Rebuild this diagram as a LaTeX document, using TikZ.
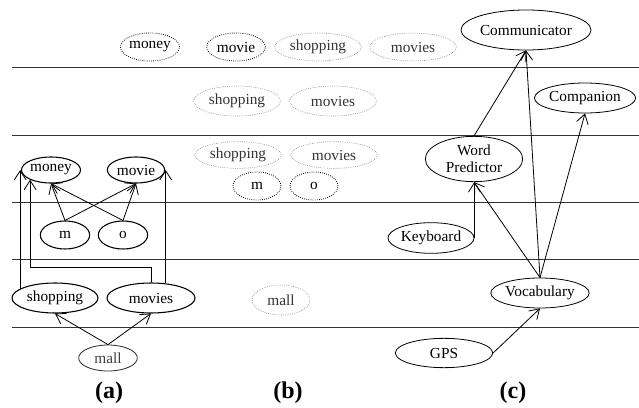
\documentclass[tikz,border=0pt]{standalone}
\usepackage{fontspec}
\setmainfont{Liberation Serif}
\usetikzlibrary{shapes.geometric,arrows.meta}

\tikzset{
  var/.style={ellipse, draw, thick, inner sep=0pt, minimum width=44pt, minimum height=19.5pt},
  obs/.style={var, draw=black!85, semithick, text=black!75},
  hint/.style={ellipse, draw, densely dotted, semithick, inner sep=0pt, minimum height=21pt},
  faint/.style={hint, draw=black!65, thin, text=black!80, minimum width=65pt},
  agent/.style={ellipse, draw, semithick, inner sep=0pt, minimum height=22.5pt},
  dep/.style={-{Straight Barb[length=7pt,width=9pt]}, line width=0.6pt},
  layer/.style={line width=0.7pt, black!80},
  panel/.style={font=\fontsize{18}{20}\selectfont\bfseries}
}

\begin{document}
\begin{tikzpicture}[x=0.75pt, y=-0.75pt, font=\fontsize{11.5}{13}\selectfont]
	\useasboundingbox (0,0) rectangle (639,407);

	% Camadas
	\foreach \ly in {67,135,202,259,327}
		\draw[layer] (12,\ly) -- (639,\ly);

	% (a) rede
	\node[var, minimum width=44pt] (money) at (51,170) {money};
	\node[var, minimum width=43pt] (movie) at (136,170) {movie};
	\node[var, minimum width=37pt, minimum height=21pt] (m) at (65,235) {m};
	\node[var, minimum width=37pt, minimum height=21pt] (o) at (123,235) {o};
	\node[var, minimum width=64.5pt, minimum height=22.5pt] (shop) at (55,298) {shopping};
	\node[var, minimum width=66pt, minimum height=22.5pt] (movs) at (151,298) {movies};
	\node[obs] (mall) at (108,358) {mall};

	\draw[dep] (m.north) -- (money.south);
	\draw[dep] (o.north) -- (money.south);
	\draw[dep] (m.north) -- (movie.south);
	\draw[dep] (o.north) -- (movie.south);
	\draw[dep] (shop.165) -- (shop.165 |- money.west);
	\draw[dep] (movs.north) -- ++(0,-15) -| (money.205);
	\draw[dep] (movs.45) -- (movs.45 |- movie.east);
	\draw[dep] (mall.north) -- (shop.south);
	\draw[dep] (mall.north) -- (movs.south);

	% (b) hipoteses
	\node[hint, minimum width=43.5pt] (bmoney) at (150,47) {money};
	\node[hint, minimum width=44pt] (bmovie) at (236,47) {movie};
	\node[faint] (bshopA) at (318,47) {shopping};
	\node[faint] (bmovsA) at (413,47) {movies};
	\node[faint, minimum height=22.5pt] (bshopB) at (237,101) {shopping};
	\node[faint, minimum height=22.5pt] (bmovsB) at (333,101) {movies};
	\node[faint, minimum height=20pt] (bshopC) at (238,155) {shopping};
	\node[faint, minimum height=20pt] (bmovsC) at (334,155) {movies};
	\node[hint, minimum width=36pt] (bm) at (257,186) {m};
	\node[hint, minimum width=36pt] (bo) at (314,186) {o};
	\node[faint, minimum width=43.5pt, minimum height=22.5pt] (bmall) at (281,300) {mall};

	% (c) componentes
	\node[agent, minimum width=79.5pt, minimum height=30pt] (comm) at (526,30) {Communicator};
	\node[agent, minimum width=67pt] (comp) at (585,98) {Companion};
	\node[agent, minimum width=73pt, minimum height=34pt, align=center] (wp) at (474,159) {Word\\Predictor};
	\node[agent, minimum width=64.5pt, minimum height=23pt] (kb) at (431,238) {Keyboard};
	\node[agent, minimum width=73pt] (voc) at (540,293) {Vocabulary};
	\node[agent, minimum width=73pt, minimum height=22pt] (gps) at (444,353) {GPS};

	\draw[dep] (wp.north) -- (comm.south);
	\draw[dep] (voc.north) -- (comm.south);
	\draw[dep] (voc.north) -- (comp.south);
	\draw[dep] (voc.north) -- (wp.south);
	\draw[dep] (kb.east) -- (kb.east |- wp.south);
	\draw[dep] (gps.east) -- (voc.south);

	% Rotulos
	\node[panel] (lbla) at (109,393) {(a)};
	\node[panel] (lblb) at (288,393) {(b)};
	\node[panel] (lblc) at (513,393) {(c)};
\end{tikzpicture}
\end{document}
